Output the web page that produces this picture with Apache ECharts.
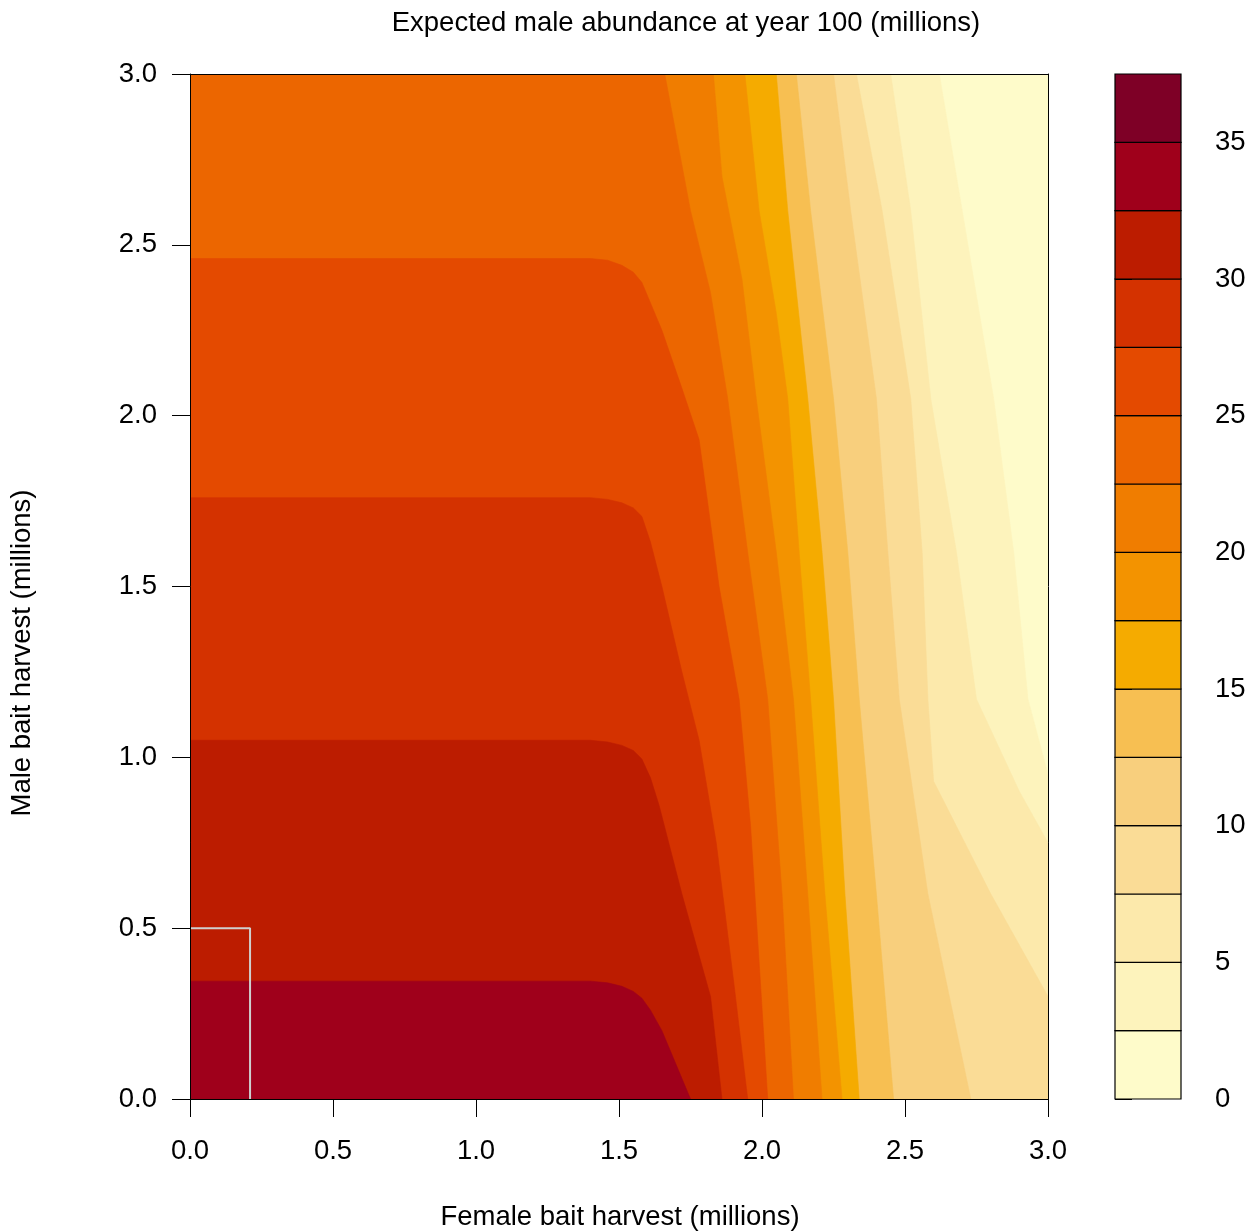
<!DOCTYPE html>
<html><head><meta charset="utf-8">
<script src="https://cdn.jsdelivr.net/npm/echarts@6/dist/echarts.min.js"></script>
<style>html,body{margin:0;padding:0;background:#fff}#c{width:1259px;height:1232px}</style>
</head><body><div id="c"></div>
<script>
// ---------- data ----------
const levels = [0, 2.5, 5, 7.5, 10, 12.5, 15, 17.5, 20, 22.5, 25, 27.5, 30, 32.5, 35, 37.5];
const axisTicks = [0, 0.5, 1, 1.5, 2, 2.5, 3];
const barTicks = [0, 5, 10, 15, 20, 25, 30, 35];
// Contour lines [female harvest, male harvest]; region >= level lies to the left / below
const c0    = [[3, 3], [3, 0]];
const c2_5  = [[2.62, 3], [2.70, 2.6], [2.81, 2.05], [2.88, 1.6], [2.93, 1.17], [3.0, 0.95]];
const c5    = [[2.45, 3], [2.52, 2.6], [2.59, 2.05], [2.68, 1.6], [2.75, 1.17], [2.90, 0.9], [3.0, 0.75]];
const c7_5  = [[2.33, 3], [2.42, 2.6], [2.52, 2.05], [2.56, 1.6], [2.58, 1.17], [2.60, 0.93], [2.80, 0.6], [3.0, 0.3]];
const c10   = [[2.25, 3], [2.31, 2.6], [2.40, 2.05], [2.44, 1.6], [2.48, 1.17], [2.58, 0.6], [2.73, 0]];
const c12_5 = [[2.12, 3], [2.17, 2.6], [2.25, 2.05], [2.30, 1.6], [2.34, 1.17], [2.40, 0.6], [2.46, 0]];
const c15   = [[2.05, 3], [2.09, 2.6], [2.16, 2.05], [2.21, 1.6], [2.25, 1.17], [2.29, 0.6], [2.34, 0]];
const c17_5 = [[1.94, 3], [1.99, 2.6], [2.05, 2.3], [2.09, 2.05], [2.13, 1.6], [2.17, 1.17], [2.22, 0.6], [2.28, 0]];
const c20   = [[1.83, 3], [1.86, 2.7], [1.93, 2.4], [1.98, 2.05], [2.05, 1.6], [2.11, 1.17], [2.16, 0.6], [2.21, 0]];
const c22_5 = [[1.66, 3], [1.75, 2.6], [1.82, 2.36], [1.88, 2.05], [1.95, 1.6], [2.02, 1.17], [2.07, 0.6], [2.11, 0]];
const c25   = [[0, 2.46], [1.40, 2.46], [1.46, 2.455], [1.51, 2.44], [1.55, 2.42], [1.58, 2.39], [1.61, 2.33], [1.65, 2.25], [1.72, 2.08], [1.78, 1.93], [1.85, 1.5], [1.92, 1.17], [1.96, 0.8], [1.99, 0.4], [2.02, 0]];
const c27_5 = [[0, 1.76], [1.40, 1.76], [1.46, 1.755], [1.51, 1.745], [1.55, 1.73], [1.58, 1.705], [1.61, 1.63], [1.65, 1.5], [1.72, 1.25], [1.78, 1.05], [1.84, 0.75], [1.90, 0.35], [1.95, 0]];
const c30   = [[0, 1.05], [1.40, 1.05], [1.46, 1.045], [1.51, 1.035], [1.55, 1.02], [1.58, 0.995], [1.61, 0.94], [1.64, 0.86], [1.72, 0.6], [1.82, 0.3], [1.86, 0]];
const c32_5 = [[0, 0.345], [1.40, 0.345], [1.46, 0.34], [1.51, 0.33], [1.55, 0.315], [1.58, 0.295], [1.61, 0.26], [1.65, 0.2], [1.70, 0.1], [1.75, 0]];
const contourLines = [c0, c2_5, c5, c7_5, c10, c12_5, c15, c17_5, c20, c22_5, c25, c27_5, c30, c32_5];
const greyBox = [[0, 0.5], [0.21, 0.5], [0.21, 0]];

// ---------- style ----------
const bandColors = ['#FEFBCA', '#FDF3BC', '#FCE9AB', '#FADC96', '#F8CF7D', '#F7BF52', '#F5AB00',
  '#F39300', '#F07D00', '#EC6600', '#E44A00', '#D43200', '#BC1C00', '#9F001B', '#7E0026'];
const FONT = '"Liberation Sans", Arial, Helvetica, sans-serif';
const FS = 27.5;
const lbl = { color: '#000', fontSize: FS, fontFamily: FONT };

// ---------- chart ----------
const chart = echarts.init(document.getElementById('c'), null, { renderer: 'canvas' });
chart.setOption({
  animation: false,
  backgroundColor: '#fff',
  grid: [
    { left: 190, top: 74, width: 858, height: 1025 },
    { left: 1115, top: 74, width: 66, height: 1025 }
  ],
  xAxis: [
    { gridIndex: 0, type: 'value', min: 0, max: 3, interval: 0.5, z: 10,
      axisLine: { show: true, onZero: false, lineStyle: { color: '#000', width: 1 } },
      axisTick: { show: true, inside: false, length: 18, customValues: axisTicks, lineStyle: { color: '#000', width: 1 } },
      axisLabel: Object.assign({ margin: 38, customValues: axisTicks, formatter: v => v.toFixed(1) }, lbl),
      splitLine: { show: false } },
    { gridIndex: 0, type: 'value', min: 0, max: 3, position: 'top', z: 10,
      axisLine: { show: true, onZero: false, lineStyle: { color: '#000', width: 1 } },
      axisTick: { show: false }, axisLabel: { show: false }, splitLine: { show: false } },
    { gridIndex: 1, type: 'value', min: 0, max: 1, show: false }
  ],
  yAxis: [
    { gridIndex: 0, type: 'value', min: 0, max: 3, interval: 0.5, z: 10,
      axisLine: { show: true, onZero: false, lineStyle: { color: '#000', width: 1 } },
      axisTick: { show: true, inside: false, length: 18, customValues: axisTicks, lineStyle: { color: '#000', width: 1 } },
      axisLabel: Object.assign({ margin: 33, customValues: axisTicks, padding: [9, 0, 0, 0], formatter: v => v.toFixed(1) }, lbl),
      splitLine: { show: false } },
    { gridIndex: 0, type: 'value', min: 0, max: 3, position: 'right', z: 10,
      axisLine: { show: true, onZero: false, lineStyle: { color: '#000', width: 1 } },
      axisTick: { show: false }, axisLabel: { show: false }, splitLine: { show: false } },
    { gridIndex: 1, type: 'value', min: 0, max: levels[levels.length - 1], position: 'right', z: 10,
      axisLine: { show: false },
      axisTick: { show: true, inside: false, length: 17, customValues: barTicks, lineStyle: { color: '#000', width: 1 } },
      axisLabel: Object.assign({ margin: 34, customValues: barTicks, align: 'left', padding: [9, 0, 0, 0] }, lbl),
      splitLine: { show: false } }
  ],
  graphic: [
    { type: 'text', x: 686, y: 23, style: { text: 'Expected male abundance at year 100 (millions)', font: FS + 'px ' + FONT, fill: '#000', textAlign: 'center', textVerticalAlign: 'middle' } },
    { type: 'text', x: 620, y: 1217, style: { text: 'Female bait harvest (millions)', font: FS + 'px ' + FONT, fill: '#000', textAlign: 'center', textVerticalAlign: 'middle' } },
    { type: 'text', x: 22, y: 653, rotation: Math.PI / 2, style: { text: 'Male bait harvest (millions)', font: FS + 'px ' + FONT, fill: '#000', textAlign: 'center', textVerticalAlign: 'middle' } }
  ],
  series: [
    { type: 'custom', xAxisIndex: 0, yAxisIndex: 0, clip: true, z: 2,
      data: contourLines.map((c, i) => [0, 0, i]),
      renderItem: function (params, api) {
        const idx = api.value(2);
        const line = contourLines[idx];
        const pts = line.map(p => api.coord(p));
        const first = line[0], last = line[line.length - 1];
        if (last[1] > 0) pts.push(api.coord([3, 0]));
        pts.push(api.coord([0, 0]));
        if (first[0] > 0) pts.push(api.coord([0, 3]));
        const col = bandColors[idx];
        return { type: 'polygon', shape: { points: pts }, style: { fill: col, stroke: col, lineWidth: 0.6 } };
      } },
    { type: 'line', xAxisIndex: 0, yAxisIndex: 0, data: greyBox, symbol: 'none', z: 5,
      lineStyle: { color: '#cfcfcf', width: 2 } },
    { type: 'custom', xAxisIndex: 2, yAxisIndex: 2, z: 2,
      data: bandColors.map((c, i) => [0, levels[i], i]),
      renderItem: function (params, api) {
        const i = api.value(2);
        const p0 = api.coord([0, levels[i + 1]]);
        const p1 = api.coord([1, levels[i]]);
        return { type: 'rect', shape: { x: p0[0], y: p0[1], width: p1[0] - p0[0], height: p1[1] - p0[1] },
          style: { fill: bandColors[i], stroke: '#000', lineWidth: 1.2 } };
      } }
  ]
});
</script></body></html>
